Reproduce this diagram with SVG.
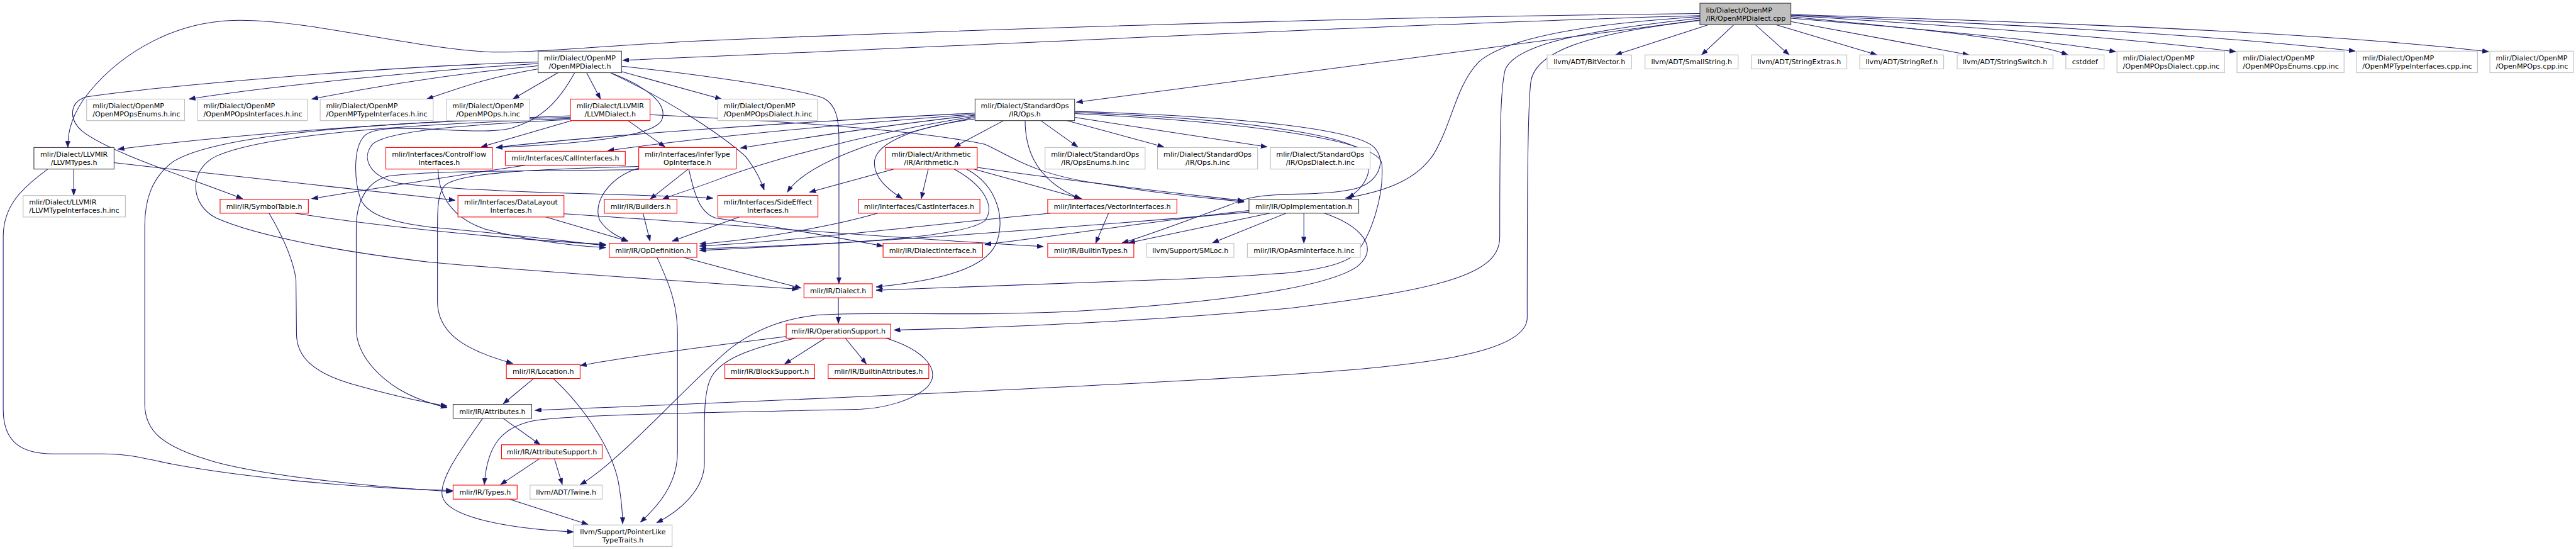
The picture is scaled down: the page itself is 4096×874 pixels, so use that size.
<svg xmlns="http://www.w3.org/2000/svg" width="4096" height="874" viewBox="0 0 4096 874">
<style>
.n rect{stroke-width:1.3}
.root rect{fill:#bfbfbf;stroke:#404040}
.blk rect{fill:#ffffff;stroke:#404040}
.red rect{fill:#ffffff;stroke:#ff0000}
.gry rect{fill:#ffffff;stroke:#bfbfbf}
text{font-family:"DejaVu Sans","Liberation Sans",sans-serif;font-size:13px;fill:#000000}
.c{text-anchor:middle}
#edges path{fill:none;stroke:#191970;stroke-width:1.2;marker-end:url(#ah)}
</style>
<defs>
<marker id="ah" viewBox="0 0 12 9" refX="12" refY="4.5" markerWidth="12" markerHeight="9" markerUnits="userSpaceOnUse" orient="auto"><path d="M0,0 L12,4.5 L0,9 z" fill="#191970" stroke="#191970" stroke-width="0.5"/></marker>
</defs>
<rect x="0" y="0" width="4096" height="874" fill="#ffffff"/>
<g transform="scale(0.855651)">
<g id="edges">
<path d="M3175,46 L3002,102"/>
<path d="M3222,46 L3162,102"/>
<path d="M3262,46 L3325,102"/>
<path d="M3300,46 L3488,102"/>
<path d="M3328,40 L3659,102"/>
<path d="M3328,31 C3520,50 3760,70 3843,102"/>
<path d="M3328,34 C3600,56 3820,78 3932,96"/>
<path d="M3328,29 C3700,52 3960,72 4155,96"/>
<path d="M3328,28 C3800,48 4120,66 4377,95"/>
<path d="M3328,27 C3950,46 4350,64 4625,96"/>
<path d="M3159,29 C2600,45 1800,85 1157,112"/>
<path d="M3159,25 C2500,32 1800,55 1300,76 C1100,86 980,100 900,96 C760,88 560,34 433,38 C310,42 210,110 155,185 C128,225 126,255 126,274"/>
<path d="M3159,37 C2700,95 2300,150 2000,190"/>
<path d="M3159,31 C2950,44 2800,70 2748,115 C2705,160 2700,225 2665,285 C2630,340 2560,358 2500,368"/>
<path d="M3159,34 C2950,56 2815,82 2797,130 C2788,165 2787,250 2787,440 C2787,505 2700,535 2400,572 C2100,600 1800,610 1661,613"/>
<path d="M3159,38 C2950,62 2855,95 2845,150 C2838,200 2838,420 2838,590 C2838,660 2620,680 2400,695 C2000,720 1500,742 994,762"/>
<path d="M1865,224 L1773,273"/>
<path d="M1934,224 L2003,273"/>
<path d="M1983,224 L2163,273"/>
<path d="M1997,218 L2355,273"/>
<path d="M1905,224 C1905,290 1935,340 2008,369"/>
<path d="M1812,221 C1700,235 1628,265 1625,300 C1623,330 1650,352 1677,369"/>
<path d="M1812,210 C1500,225 1100,252 922,274"/>
<path d="M1812,212 C1600,228 1300,255 1129,280"/>
<path d="M1812,214 C1650,232 1500,255 1376,275"/>
<path d="M1812,216 C1600,250 1420,300 1330,335 C1285,352 1255,360 1231,370"/>
<path d="M1812,218 C1650,250 1500,300 1463,357"/>
<path d="M1997,207 C2250,214 2520,235 2555,275 C2578,302 2560,338 2520,350 C2450,368 2350,352 2300,375 C2200,412 2125,440 2085,451"/>
<path d="M1997,209 C2300,220 2522,250 2540,290 C2553,325 2530,352 2505,368"/>
<path d="M1997,211 C2300,226 2565,258 2568,305 C2572,360 2550,440 2515,475 C2475,505 2380,510 2200,518 C1950,527 1750,533 1628,539"/>
<path d="M1661,314 L1504,357"/>
<path d="M1725,314 L1712,369"/>
<path d="M1773,314 C1830,345 1850,385 1830,410 C1790,440 1600,452 1300,462"/>
<path d="M1796,314 C1855,345 1870,410 1850,455 C1830,495 1760,520 1628,533"/>
<path d="M1810,314 L2010,369"/>
<path d="M1816,311 C2000,338 2200,360 2312,373"/>
<path d="M1062,224 L894,273"/>
<path d="M1167,224 L1236,273"/>
<path d="M1208,213 C1450,225 1700,240 1830,268 C1880,290 1920,325 2050,342 C2150,360 2250,368 2312,375"/>
<path d="M1060,215 C800,225 500,242 219,277"/>
<path d="M1060,218 C700,226 400,250 322,300 C282,330 269,370 269,420 L269,750 C269,800 300,830 400,858 C500,885 700,905 841,913"/>
<path d="M1060,220 C800,230 500,246 402,290 C350,315 352,380 402,405 C480,440 650,470 800,487 C1000,505 1300,524 1484,537"/>
<path d="M1060,222 C900,230 722,240 692,268 C670,295 688,328 740,340 C900,360 1200,360 1325,368"/>
<path d="M1000,118 C800,130 500,160 351,184"/>
<path d="M1000,122 C850,136 700,160 579,184"/>
<path d="M1000,128 C900,145 850,165 793,184"/>
<path d="M1000,115 C700,124 300,160 160,180 C128,190 128,222 152,243 C200,282 350,330 451,369"/>
<path d="M1037,135 L953,184"/>
<path d="M1090,135 L1116,184"/>
<path d="M1155,133 L1341,184"/>
<path d="M1134,135 C1200,160 1242,192 1230,222 C1218,252 1100,266 922,274"/>
<path d="M1136,136 C1250,190 1340,250 1385,290 C1405,315 1415,338 1420,353"/>
<path d="M1155,123 C1300,138 1480,164 1530,182 C1555,195 1559,222 1559,262 L1559,527"/>
<path d="M1068,135 C1040,185 1010,220 950,238 C880,255 720,222 680,250 C655,270 658,335 670,370 C684,400 725,412 800,422 C950,435 1050,448 1126,456"/>
<path d="M137,314 L137,363"/>
<path d="M89,314 C40,350 6,382 6,440 L6,760 C6,822 40,843 100,843 L190,843 C240,843 262,850 320,862 C450,886 650,906 841,911"/>
<path d="M212,302 C450,330 700,355 846,372"/>
<path d="M500,396 C520,430 545,480 550,520 L551,620 C551,662 582,692 650,712 C720,732 780,746 831,754"/>
<path d="M548,396 C700,420 950,445 1126,454"/>
<path d="M976,307 C850,325 700,350 579,369"/>
<path d="M1279,314 L1208,370"/>
<path d="M1187,312 C1130,330 1100,378 1115,410 C1128,430 1150,440 1167,448"/>
<path d="M1187,309 C1000,314 850,320 826,345 C814,360 813,385 813,420 L813,560 C813,622 870,652 953,675"/>
<path d="M1187,315 C1000,318 800,316 722,327 C682,337 663,372 662,420 L662,610 C662,650 690,690 740,722 C770,740 800,750 831,757"/>
<path d="M1280,314 C1290,360 1300,395 1330,405 C1450,422 1550,440 1641,457"/>
<path d="M1014,403 L1167,448"/>
<path d="M1048,397 C1400,420 1700,445 1939,458"/>
<path d="M1195,396 L1208,448"/>
<path d="M1374,403 L1249,448"/>
<path d="M814,314 C815,360 835,402 900,425 C980,446 1060,456 1126,460"/>
<path d="M1631,396 C1550,420 1400,446 1300,453"/>
<path d="M1952,396 C1700,420 1500,446 1300,457"/>
<path d="M2060,396 L2036,452"/>
<path d="M2321,391 C2150,410 1950,440 1830,454"/>
<path d="M2321,394 C2000,422 1600,452 1300,465"/>
<path d="M2360,396 L2097,451"/>
<path d="M2390,396 L2253,451"/>
<path d="M2423,396 L2423,452"/>
<path d="M2461,396 C2530,420 2565,460 2522,495 C2472,530 2300,560 2000,578 C1800,588 1650,578 1520,585 C1450,592 1400,615 1360,645 C1290,700 1150,860 1078,900"/>
<path d="M1271,478 C1350,500 1430,520 1489,535"/>
<path d="M1221,478 C1240,520 1259,560 1259,620 L1259,840 C1259,900 1222,940 1190,970"/>
<path d="M1558,553 L1558,601"/>
<path d="M1461,625 C1300,645 1150,665 1078,679"/>
<path d="M1535,627 L1458,676"/>
<path d="M1570,627 L1610,676"/>
<path d="M1484,627 C1400,645 1342,665 1322,700 C1310,722 1309,760 1309,800 L1309,860 C1309,910 1262,950 1220,971"/>
<path d="M1643,627 C1720,650 1752,690 1722,720 C1692,746 1640,758 1600,760 C1400,765 1100,768 1000,780 C930,790 905,830 900,900"/>
<path d="M993,702 L935,750"/>
<path d="M1027,702 C1090,760 1140,840 1150,900 C1155,930 1157,950 1157,973"/>
<path d="M935,777 L1004,826"/>
<path d="M897,777 C860,830 815,890 822,922 C832,962 950,982 1066,988"/>
<path d="M1004,851 L930,900"/>
<path d="M1030,851 L1045,900"/>
<path d="M943,926 L1093,974"/>
</g>
<g id="root" class="n root"><rect x="3159" y="6" width="169" height="40"/><text x="3170" y="23">lib/Dialect/OpenMP</text><text x="3170" y="38">/IR/OpenMPDialect.cpp</text></g>
<g id="ompd" class="n blk"><rect x="1000" y="95" width="155" height="40"/><text class="c" x="1077.5" y="112">mlir/Dialect/OpenMP</text><text class="c" x="1077.5" y="127">/OpenMPDialect.h</text></g>
<g id="bitvector" class="n gry"><rect x="2875" y="102" width="157" height="26"/><text class="c" x="2953.5" y="119.5">llvm/ADT/BitVector.h</text></g>
<g id="smallstring" class="n gry"><rect x="3057" y="102" width="173" height="26"/><text class="c" x="3143.5" y="119.5">llvm/ADT/SmallString.h</text></g>
<g id="stringextras" class="n gry"><rect x="3255" y="102" width="177" height="26"/><text class="c" x="3343.5" y="119.5">llvm/ADT/StringExtras.h</text></g>
<g id="stringref" class="n gry"><rect x="3456" y="102" width="156" height="26"/><text class="c" x="3534" y="119.5">llvm/ADT/StringRef.h</text></g>
<g id="stringswitch" class="n gry"><rect x="3637" y="102" width="178" height="26"/><text class="c" x="3726" y="119.5">llvm/ADT/StringSwitch.h</text></g>
<g id="cstddef" class="n gry"><rect x="3839" y="102" width="71" height="26"/><text class="c" x="3874.5" y="119.5">cstddef</text></g>
<g id="opsdialectcpp" class="n gry"><rect x="3934" y="95" width="200" height="40"/><text x="3945" y="112">mlir/Dialect/OpenMP</text><text x="3945" y="127">/OpenMPOpsDialect.cpp.inc</text></g>
<g id="opsenumscpp" class="n gry"><rect x="4157" y="95" width="199" height="40"/><text x="4168" y="112">mlir/Dialect/OpenMP</text><text x="4168" y="127">/OpenMPOpsEnums.cpp.inc</text></g>
<g id="typeintcpp" class="n gry"><rect x="4379" y="95" width="225" height="40"/><text x="4390" y="112">mlir/Dialect/OpenMP</text><text x="4390" y="127">/OpenMPTypeInterfaces.cpp.inc</text></g>
<g id="opscpp" class="n gry"><rect x="4627" y="95" width="155" height="40"/><text x="4638" y="112">mlir/Dialect/OpenMP</text><text x="4638" y="127">/OpenMPOps.cpp.inc</text></g>
<g id="opsenumsh" class="n gry"><rect x="161" y="184" width="182" height="40"/><text x="172" y="201">mlir/Dialect/OpenMP</text><text x="172" y="216">/OpenMPOpsEnums.h.inc</text></g>
<g id="opsinth" class="n gry"><rect x="367" y="184" width="204" height="40"/><text x="378" y="201">mlir/Dialect/OpenMP</text><text x="378" y="216">/OpenMPOpsInterfaces.h.inc</text></g>
<g id="typeinth" class="n gry"><rect x="595" y="184" width="210" height="40"/><text x="606" y="201">mlir/Dialect/OpenMP</text><text x="606" y="216">/OpenMPTypeInterfaces.h.inc</text></g>
<g id="opshinc" class="n gry"><rect x="830" y="184" width="154" height="40"/><text class="c" x="907" y="201">mlir/Dialect/OpenMP</text><text class="c" x="907" y="216">/OpenMPOps.h.inc</text></g>
<g id="llvmdialect" class="n red"><rect x="1060" y="184" width="148" height="40"/><text class="c" x="1134" y="201">mlir/Dialect/LLVMIR</text><text class="c" x="1134" y="216">/LLVMDialect.h</text></g>
<g id="opsdialecth" class="n gry"><rect x="1334" y="184" width="185" height="40"/><text x="1345" y="201">mlir/Dialect/OpenMP</text><text x="1345" y="216">/OpenMPOpsDialect.h.inc</text></g>
<g id="stdops" class="n blk"><rect x="1812" y="184" width="185" height="40"/><text class="c" x="1904.5" y="201">mlir/Dialect/StandardOps</text><text class="c" x="1904.5" y="216">/IR/Ops.h</text></g>
<g id="llvmtypes" class="n blk"><rect x="63" y="274" width="149" height="40"/><text class="c" x="137.5" y="291">mlir/Dialect/LLVMIR</text><text class="c" x="137.5" y="306">/LLVMTypes.h</text></g>
<g id="controlflow" class="n red"><rect x="717" y="274" width="198" height="40"/><text class="c" x="816" y="291">mlir/Interfaces/ControlFlow</text><text class="c" x="816" y="306">Interfaces.h</text></g>
<g id="callint" class="n red"><rect x="939" y="281" width="223" height="26"/><text class="c" x="1050.5" y="298.5">mlir/Interfaces/CallInterfaces.h</text></g>
<g id="infertype" class="n red"><rect x="1187" y="274" width="181" height="40"/><text class="c" x="1277.5" y="291">mlir/Interfaces/InferType</text><text class="c" x="1277.5" y="306">OpInterface.h</text></g>
<g id="arith" class="n red"><rect x="1645" y="274" width="171" height="40"/><text class="c" x="1730.5" y="291">mlir/Dialect/Arithmetic</text><text class="c" x="1730.5" y="306">/IR/Arithmetic.h</text></g>
<g id="stdopsenums" class="n gry"><rect x="1942" y="274" width="186" height="40"/><text class="c" x="2035" y="291">mlir/Dialect/StandardOps</text><text class="c" x="2035" y="306">/IR/OpsEnums.h.inc</text></g>
<g id="stdopshinc" class="n gry"><rect x="2151" y="274" width="186" height="40"/><text class="c" x="2244" y="291">mlir/Dialect/StandardOps</text><text class="c" x="2244" y="306">/IR/Ops.h.inc</text></g>
<g id="stdopsdialect" class="n gry"><rect x="2361" y="274" width="185" height="40"/><text class="c" x="2453.5" y="291">mlir/Dialect/StandardOps</text><text class="c" x="2453.5" y="306">/IR/OpsDialect.h.inc</text></g>
<g id="llvmtypeint" class="n gry"><rect x="43" y="363" width="190" height="40"/><text x="54" y="380">mlir/Dialect/LLVMIR</text><text x="54" y="395">/LLVMTypeInterfaces.h.inc</text></g>
<g id="symboltable" class="n red"><rect x="409" y="370" width="164" height="26"/><text class="c" x="491" y="387.5">mlir/IR/SymbolTable.h</text></g>
<g id="datalayout" class="n red"><rect x="851" y="363" width="197" height="40"/><text class="c" x="949.5" y="380">mlir/Interfaces/DataLayout</text><text class="c" x="949.5" y="395">Interfaces.h</text></g>
<g id="builders" class="n red"><rect x="1123" y="370" width="135" height="26"/><text class="c" x="1190.5" y="387.5">mlir/IR/Builders.h</text></g>
<g id="sideeffect" class="n red"><rect x="1334" y="363" width="186" height="40"/><text class="c" x="1427" y="380">mlir/Interfaces/SideEffect</text><text class="c" x="1427" y="395">Interfaces.h</text></g>
<g id="castint" class="n red"><rect x="1595" y="370" width="226" height="26"/><text class="c" x="1708" y="387.5">mlir/Interfaces/CastInterfaces.h</text></g>
<g id="vectorint" class="n red"><rect x="1947" y="370" width="240" height="26"/><text class="c" x="2067" y="387.5">mlir/Interfaces/VectorInterfaces.h</text></g>
<g id="opimpl" class="n blk"><rect x="2321" y="370" width="204" height="26"/><text class="c" x="2423" y="387.5">mlir/IR/OpImplementation.h</text></g>
<g id="opdef" class="n red"><rect x="1132" y="452" width="163" height="26"/><text class="c" x="1213.5" y="469.5">mlir/IR/OpDefinition.h</text></g>
<g id="dialectint" class="n red"><rect x="1641" y="452" width="185" height="26"/><text class="c" x="1733.5" y="469.5">mlir/IR/DialectInterface.h</text></g>
<g id="builtintypes" class="n red"><rect x="1947" y="452" width="160" height="26"/><text class="c" x="2027" y="469.5">mlir/IR/BuiltinTypes.h</text></g>
<g id="smloc" class="n gry"><rect x="2131" y="452" width="162" height="26"/><text class="c" x="2212" y="469.5">llvm/Support/SMLoc.h</text></g>
<g id="opasm" class="n gry"><rect x="2318" y="452" width="210" height="26"/><text class="c" x="2423" y="469.5">mlir/IR/OpAsmInterface.h.inc</text></g>
<g id="dialect" class="n red"><rect x="1494" y="527" width="127" height="26"/><text class="c" x="1557.5" y="544.5">mlir/IR/Dialect.h</text></g>
<g id="opsupport" class="n red"><rect x="1461" y="602" width="194" height="26"/><text class="c" x="1558" y="619.5">mlir/IR/OperationSupport.h</text></g>
<g id="location" class="n red"><rect x="941" y="677" width="137" height="26"/><text class="c" x="1009.5" y="694.5">mlir/IR/Location.h</text></g>
<g id="blocksupport" class="n red"><rect x="1347" y="677" width="167" height="26"/><text class="c" x="1430.5" y="694.5">mlir/IR/BlockSupport.h</text></g>
<g id="builtinattrs" class="n red"><rect x="1539" y="677" width="187" height="26"/><text class="c" x="1632.5" y="694.5">mlir/IR/BuiltinAttributes.h</text></g>
<g id="attributes" class="n blk"><rect x="842" y="751" width="146" height="26"/><text class="c" x="915" y="768.5">mlir/IR/Attributes.h</text></g>
<g id="attrsupport" class="n red"><rect x="932" y="826" width="187" height="26"/><text class="c" x="1025.5" y="843.5">mlir/IR/AttributeSupport.h</text></g>
<g id="types" class="n red"><rect x="842" y="901" width="119" height="26"/><text class="c" x="901.5" y="918.5">mlir/IR/Types.h</text></g>
<g id="twine" class="n gry"><rect x="985" y="901" width="134" height="26"/><text class="c" x="1052" y="918.5">llvm/ADT/Twine.h</text></g>
<g id="pointerlike" class="n gry"><rect x="1066" y="975" width="183" height="40"/><text class="c" x="1157.5" y="992">llvm/Support/PointerLike</text><text class="c" x="1157.5" y="1007">TypeTraits.h</text></g>
</g>
</svg>
